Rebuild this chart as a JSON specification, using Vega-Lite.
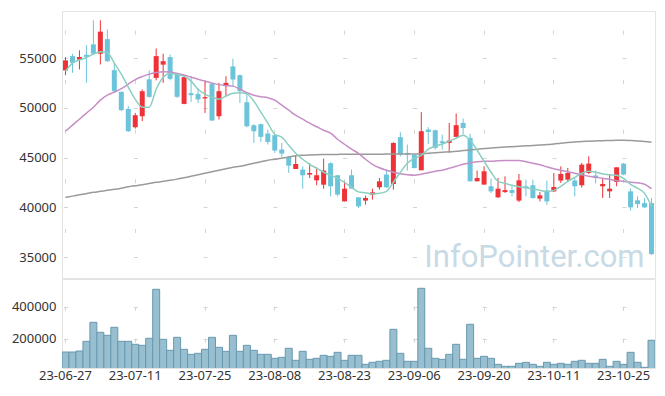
{
"$schema": "https://vega.github.io/schema/vega-lite/v6.json",
"padding": {"left": 0, "top": 10, "right": 10, "bottom": 0},
"spacing": -4,
"config": {
  "view": {"stroke": "#e3e3e3"},
  "font": "Noto Sans",
  "axis": {"domain": false, "ticks": false, "labelFont": "Noto Sans", "labelFontSize": 13, "labelColor": "#333333", "gridColor": "#d4d4d4", "gridWidth": 1, "title": null}
},
"datasets": {
  "k": [
{"d":"23-06-27","o":53780,"h":55120,"l":53300,"c":54790,"v":116900,"m5":53710,"m20":47660,"m60":41010},
{"d":"23-06-28","o":55220,"h":55460,"l":53540,"c":54550,"v":116900,"m5":54520,"m20":48270,"m60":41130},
{"d":"23-06-29","o":54870,"h":55800,"l":53880,"c":55130,"v":123100,"m5":54820,"m20":48870,"m60":41260},
{"d":"23-06-30","o":55350,"h":56320,"l":52530,"c":55150,"v":183700,"m5":55070,"m20":49480,"m60":41380},
{"d":"23-07-03","o":56400,"h":58820,"l":55400,"c":55460,"v":302500,"m5":55420,"m20":50080,"m60":41510},
{"d":"23-07-04","o":55460,"h":58820,"l":54380,"c":57680,"v":240000,"m5":55650,"m20":50790,"m60":41610},
{"d":"23-07-05","o":56930,"h":57910,"l":54650,"c":54710,"v":221200,"m5":55550,"m20":51290,"m60":41710},
{"d":"23-07-06","o":53810,"h":54550,"l":51520,"c":51690,"v":271200,"m5":54520,"m20":51590,"m60":41810},
{"d":"23-07-07","o":51620,"h":51650,"l":49680,"c":49780,"v":183700,"m5":53410,"m20":51940,"m60":41920},
{"d":"23-07-10","o":49910,"h":50180,"l":47590,"c":47660,"v":183700,"m5":52100,"m20":52400,"m60":42070},
{"d":"23-07-11","o":48060,"h":49500,"l":47930,"c":49270,"v":165000,"m5":50860,"m20":52850,"m60":42170},
{"d":"23-07-12","o":49170,"h":51860,"l":48670,"c":51690,"v":158700,"m5":50080,"m20":53160,"m60":42270},
{"d":"23-07-13","o":52880,"h":53780,"l":51020,"c":51120,"v":202500,"m5":50080,"m20":53410,"m60":42390},
{"d":"23-07-14","o":53030,"h":55990,"l":52780,"c":55220,"v":508700,"m5":51890,"m20":53560,"m60":42520},
{"d":"23-07-17","o":54360,"h":55460,"l":52530,"c":54710,"v":196200,"m5":53100,"m20":53640,"m60":42620},
{"d":"23-07-18","o":55120,"h":55390,"l":52780,"c":52930,"v":127500,"m5":53460,"m20":53610,"m60":42720},
{"d":"23-07-19","o":53380,"h":53540,"l":51020,"c":51120,"v":208700,"m5":53360,"m20":53460,"m60":42840},
{"d":"23-07-20","o":50410,"h":53300,"l":50370,"c":53100,"v":133700,"m5":53200,"m20":53310,"m60":42970},
{"d":"23-07-21","o":51490,"h":53200,"l":50610,"c":51290,"v":102500,"m5":52700,"m20":53100,"m60":43120},
{"d":"23-07-24","o":51420,"h":52020,"l":50510,"c":50860,"v":108700,"m5":51890,"m20":52900,"m60":43280},
{"d":"23-07-25","o":50960,"h":52770,"l":49500,"c":51090,"v":133700,"m5":51390,"m20":52700,"m60":43430},
{"d":"23-07-26","o":52430,"h":52530,"l":48670,"c":48740,"v":208700,"m5":51090,"m20":52500,"m60":43580},
{"d":"23-07-27","o":49170,"h":52530,"l":48840,"c":51690,"v":146200,"m5":50890,"m20":52350,"m60":43730},
{"d":"23-07-28","o":52200,"h":53200,"l":51190,"c":52530,"v":121200,"m5":51190,"m20":52250,"m60":43880},
{"d":"23-07-31","o":54180,"h":54950,"l":52100,"c":52870,"v":221200,"m5":51490,"m20":52200,"m60":44030},
{"d":"23-08-01","o":53300,"h":53370,"l":50510,"c":51690,"v":121200,"m5":51540,"m20":51890,"m60":44130},
{"d":"23-08-02","o":50580,"h":51520,"l":48060,"c":48160,"v":158700,"m5":51420,"m20":51540,"m60":44280},
{"d":"23-08-03","o":48260,"h":48370,"l":46480,"c":47660,"v":127500,"m5":50690,"m20":51290,"m60":44440},
{"d":"23-08-04","o":48370,"h":48440,"l":46580,"c":47090,"v":102500,"m5":49580,"m20":51140,"m60":44590},
{"d":"23-08-07","o":47430,"h":47830,"l":46320,"c":46580,"v":102500,"m5":48470,"m20":51040,"m60":44740},
{"d":"23-08-08","o":47260,"h":47330,"l":45480,"c":45720,"v":77500,"m5":47360,"m20":50790,"m60":44840},
{"d":"23-08-09","o":45820,"h":46480,"l":45040,"c":45410,"v":83700,"m5":47060,"m20":50280,"m60":44940},
{"d":"23-08-10","o":45070,"h":45140,"l":43460,"c":44200,"v":140000,"m5":46250,"m20":49780,"m60":45060},
{"d":"23-08-11","o":43860,"h":45240,"l":43860,"c":44360,"v":65000,"m5":45440,"m20":49270,"m60":45190},
{"d":"23-08-14","o":43800,"h":44130,"l":41880,"c":43230,"v":121200,"m5":44840,"m20":48870,"m60":45240},
{"d":"23-08-16","o":43300,"h":44470,"l":42950,"c":43460,"v":71200,"m5":44330,"m20":48470,"m60":45270},
{"d":"23-08-17","o":42720,"h":44030,"l":42220,"c":43230,"v":77500,"m5":43930,"m20":48110,"m60":45290},
{"d":"23-08-18","o":42280,"h":44910,"l":41880,"c":43700,"v":96200,"m5":43530,"m20":47760,"m60":45310},
{"d":"23-08-21","o":44440,"h":44540,"l":41110,"c":42120,"v":90000,"m5":43230,"m20":47460,"m60":45320},
{"d":"23-08-22","o":43230,"h":43230,"l":41110,"c":41280,"v":115000,"m5":42920,"m20":46850,"m60":45330},
{"d":"23-08-23","o":40600,"h":42620,"l":40600,"c":41880,"v":65000,"m5":42520,"m20":46350,"m60":45340},
{"d":"23-08-24","o":43230,"h":43800,"l":41880,"c":41880,"v":96200,"m5":42020,"m20":45850,"m60":45340},
{"d":"23-08-25","o":41010,"h":41010,"l":39930,"c":40100,"v":96200,"m5":41560,"m20":45440,"m60":45340},
{"d":"23-08-28","o":40680,"h":41180,"l":40270,"c":40940,"v":40000,"m5":41460,"m20":44840,"m60":45340},
{"d":"23-08-29","o":41280,"h":41880,"l":40780,"c":41510,"v":52500,"m5":41340,"m20":44330,"m60":45340},
{"d":"23-08-30","o":42020,"h":42950,"l":41780,"c":42620,"v":58700,"m5":41410,"m20":43980,"m60":45340},
{"d":"23-08-31","o":43300,"h":43800,"l":41950,"c":42020,"v":65000,"m5":41610,"m20":43730,"m60":45360},
{"d":"23-09-01","o":42350,"h":46550,"l":41780,"c":46480,"v":258700,"m5":42520,"m20":43530,"m60":45360},
{"d":"23-09-04","o":47060,"h":47560,"l":45140,"c":45310,"v":108700,"m5":43530,"m20":43380,"m60":45360},
{"d":"23-09-05","o":45480,"h":46320,"l":43700,"c":45310,"v":58700,"m5":44440,"m20":43280,"m60":45360},
{"d":"23-09-06","o":45310,"h":45310,"l":43900,"c":43960,"v":58700,"m5":44940,"m20":43230,"m60":45360},
{"d":"23-09-07","o":43730,"h":49580,"l":43730,"c":47660,"v":515000,"m5":45240,"m20":43330,"m60":45390},
{"d":"23-09-08","o":47830,"h":48060,"l":46380,"c":47590,"v":140000,"m5":45850,"m20":43480,"m60":45440},
{"d":"23-09-11","o":47760,"h":47830,"l":45820,"c":45980,"v":77500,"m5":46150,"m20":43630,"m60":45490},
{"d":"23-09-12","o":46650,"h":47330,"l":45820,"c":46480,"v":71200,"m5":46380,"m20":43730,"m60":45540},
{"d":"23-09-13","o":46480,"h":48500,"l":45470,"c":46720,"v":102500,"m5":46650,"m20":43930,"m60":45590},
{"d":"23-09-14","o":47090,"h":49450,"l":47090,"c":48270,"v":165000,"m5":46960,"m20":44130,"m60":45640},
{"d":"23-09-15","o":48500,"h":48940,"l":47330,"c":47990,"v":71200,"m5":47260,"m20":44330,"m60":45720},
{"d":"23-09-18","o":46990,"h":47390,"l":42620,"c":42620,"v":290000,"m5":46750,"m20":44490,"m60":45780},
{"d":"23-09-19","o":42620,"h":43700,"l":42620,"c":42950,"v":77500,"m5":45750,"m20":44590,"m60":45850},
{"d":"23-09-20","o":42290,"h":44130,"l":42290,"c":43630,"v":90000,"m5":44640,"m20":44640,"m60":45920},
{"d":"23-09-21","o":42120,"h":42890,"l":41450,"c":41610,"v":77500,"m5":43530,"m20":44640,"m60":45970},
{"d":"23-09-22","o":41010,"h":42950,"l":40940,"c":41880,"v":40000,"m5":42620,"m20":44690,"m60":46020},
{"d":"23-09-25","o":41540,"h":43120,"l":41450,"c":41740,"v":27500,"m5":42420,"m20":44710,"m60":46070},
{"d":"23-09-26","o":41740,"h":42120,"l":41110,"c":41450,"v":27500,"m5":42220,"m20":44710,"m60":46110},
{"d":"23-09-27","o":40680,"h":43360,"l":40530,"c":42720,"v":46200,"m5":42070,"m20":44710,"m60":46150},
{"d":"23-10-04","o":42120,"h":42790,"l":41110,"c":41950,"v":52500,"m5":41970,"m20":44590,"m60":46190},
{"d":"23-10-05","o":42220,"h":42790,"l":40870,"c":40940,"v":40000,"m5":41860,"m20":44440,"m60":46230},
{"d":"23-10-06","o":40880,"h":41540,"l":40600,"c":41210,"v":27500,"m5":41710,"m20":44280,"m60":46270},
{"d":"23-10-10","o":41680,"h":42690,"l":40270,"c":40600,"v":52500,"m5":41610,"m20":44080,"m60":46320},
{"d":"23-10-11","o":41610,"h":43460,"l":41540,"c":42050,"v":40000,"m5":41710,"m20":43880,"m60":46370},
{"d":"23-10-12","o":42690,"h":44130,"l":42450,"c":43360,"v":46200,"m5":42120,"m20":43730,"m60":46450},
{"d":"23-10-13","o":42790,"h":43960,"l":42620,"c":43460,"v":40000,"m5":42620,"m20":43580,"m60":46520},
{"d":"23-10-16","o":42690,"h":43020,"l":41110,"c":42120,"v":58700,"m5":43020,"m20":43430,"m60":46580},
{"d":"23-10-17","o":42220,"h":44470,"l":41990,"c":44300,"v":65000,"m5":43430,"m20":43280,"m60":46630},
{"d":"23-10-18","o":43460,"h":45140,"l":43360,"c":44400,"v":46200,"m5":43630,"m20":43120,"m60":46650},
{"d":"23-10-19","o":43200,"h":43700,"l":42400,"c":43050,"v":46200,"m5":43530,"m20":43020,"m60":46680},
{"d":"23-10-20","o":42120,"h":42950,"l":40940,"c":42350,"v":71200,"m5":43360,"m20":42920,"m60":46710},
{"d":"23-10-23","o":41610,"h":43360,"l":40940,"c":41880,"v":27500,"m5":43280,"m20":42820,"m60":46730},
{"d":"23-10-24","o":42550,"h":44030,"l":42120,"c":44030,"v":58700,"m5":43230,"m20":42670,"m60":46750},
{"d":"23-10-25","o":44400,"h":44470,"l":43230,"c":43300,"v":40000,"m5":42920,"m20":42620,"m60":46750},
{"d":"23-10-26","o":41610,"h":41880,"l":39670,"c":40000,"v":115000,"m5":42320,"m20":42520,"m60":46720},
{"d":"23-10-27","o":40710,"h":41110,"l":39930,"c":40330,"v":52500,"m5":41920,"m20":42470,"m60":46680},
{"d":"23-10-30","o":40430,"h":40940,"l":39930,"c":40000,"v":21200,"m5":41410,"m20":42320,"m60":46630},
{"d":"23-10-31","o":40430,"h":40940,"l":35230,"c":35290,"v":190000,"m5":40100,"m20":41860,"m60":46550}
  ]
},
"vconcat": [
  {
    "width": 593,
    "height": 267,
    "encoding": {
      "x": {"field": "d", "type": "ordinal", "sort": null,
        "scale": {"paddingInner": 0, "paddingOuter": 0},
        "axis": {"labels": false, "labelPadding": 0, "minExtent": 0, "maxExtent": 0, "grid": true, "gridDash": [4, 45.6], "gridDashOffset": 30.6,
          "values": ["23-06-27","23-07-11","23-07-25","23-08-08","23-08-23","23-09-06","23-09-20","23-10-11","23-10-25"]}}
    },
    "layer": [
      {
        "data": {"name": "k"},
        "mark": {"type": "rule", "strokeWidth": 1},
        "encoding": {
          "y": {"field": "l", "type": "quantitative",
            "scale": {"domain": [32890, 59760], "nice": false, "zero": false},
            "axis": {"values": [35000, 40000, 45000, 50000, 55000], "format": "d", "grid": true, "gridDash": [4, 65.8], "gridDashOffset": 68.3, "labelPadding": 6, "minExtent": 61, "maxExtent": 61}},
          "y2": {"field": "h"},
          "color": {"condition": {"test": "datum.c >= datum.o", "value": "#ee3338"}, "value": "#6cc4da"}
        }
      },
      {
        "data": {"name": "k"},
        "mark": {"type": "bar", "size": 5},
        "encoding": {
          "y": {"field": "o", "type": "quantitative"},
          "y2": {"field": "c"},
          "color": {"condition": {"test": "datum.c >= datum.o", "value": "#ee3338"}, "value": "#6cc4da"}
        }
      },
      {
        "data": {"name": "k"},
        "mark": {"type": "line", "color": "#9a9a9a", "strokeWidth": 1.5, "interpolate": "monotone"},
        "encoding": {"y": {"field": "m60", "type": "quantitative"}}
      },
      {
        "data": {"name": "k"},
        "mark": {"type": "line", "color": "#c68ec6", "strokeWidth": 1.5, "interpolate": "monotone"},
        "encoding": {"y": {"field": "m20", "type": "quantitative"}}
      },
      {
        "data": {"name": "k"},
        "mark": {"type": "line", "color": "#8bcfc2", "strokeWidth": 1.5, "interpolate": "monotone"},
        "encoding": {"y": {"field": "m5", "type": "quantitative"}}
      },
      {
        "data": {"values": [{"label": "InfoPointer.com"}]},
        "mark": {"type": "text", "fontSize": 31, "font": "Roboto", "color": "#c7dae5", "align": "right", "baseline": "alphabetic"},
        "encoding": {"x": {"datum": "23-10-30", "type": "ordinal"}, "y": {"datum": 34000, "type": "quantitative"}, "text": {"field": "label"}}
      }
    ]
  },
  {
    "width": 593,
    "height": 89,
    "data": {"name": "k"},
    "mark": {"type": "bar", "color": "#98bfcf", "stroke": "#6898af", "strokeWidth": 1, "clip": true},
    "encoding": {
      "x": {"field": "d", "type": "ordinal", "sort": null,
        "scale": {"paddingInner": 0, "paddingOuter": 0},
        "axis": {"labelAngle": 0, "labelPadding": 1, "grid": true, "gridDash": [4, 28], "gridDashOffset": 4.7,
          "values": ["23-06-27","23-07-11","23-07-25","23-08-08","23-08-23","23-09-06","23-09-20","23-10-11","23-10-25"]}},
      "y": {"field": "v", "type": "quantitative",
        "scale": {"domain": [17000, 573000], "nice": false, "zero": false},
        "axis": {"values": [200000, 400000], "format": "d", "grid": true, "gridDash": [4, 65.8], "gridDashOffset": 68.3, "labelPadding": 6, "minExtent": 61, "maxExtent": 61}}
    }
  }
]
}
